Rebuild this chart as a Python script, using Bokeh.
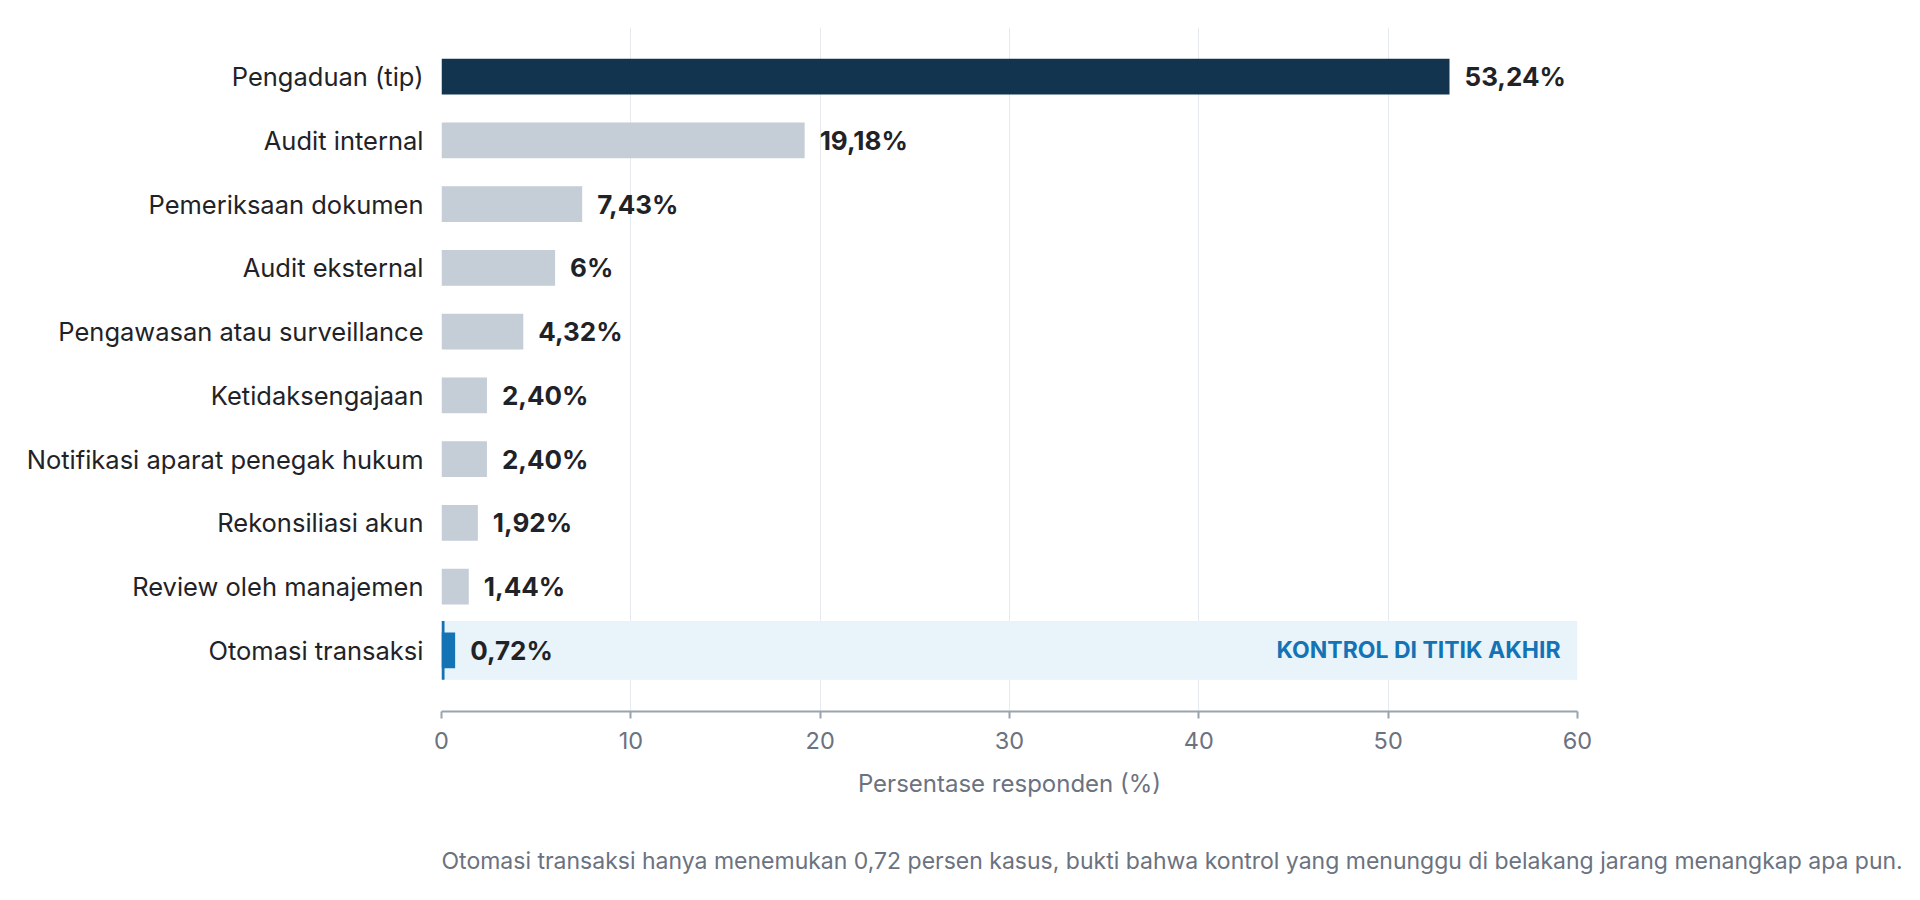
from bokeh.plotting import figure
from bokeh.models import Range1d, FixedTicker, Title
from bokeh.layouts import column
from bokeh.core.properties import value
from bokeh.embed import file_html
from bokeh.resources import INLINE

categories = ["Pengaduan (tip)", "Audit internal", "Pemeriksaan dokumen", "Audit eksternal",
              "Pengawasan atau surveillance", "Ketidaksengajaan", "Notifikasi aparat penegak hukum",
              "Rekonsiliasi akun", "Review oleh manajemen", "Otomasi transaksi"]
values = [53.24, 19.18, 7.43, 6.00, 4.32, 2.40, 2.40, 1.92, 1.44, 0.72]
value_labels = ["53,24%", "19,18%", "7,43%", "6%", "4,32%", "2,40%", "2,40%", "1,92%", "1,44%", "0,72%"]
x_ticks = [0, 10, 20, 30, 40, 50, 60]
highlight = "Otomasi transaksi"
highlight_note = "KONTROL DI TITIK AKHIR"
x_title = "Persentase responden (%)"
footnote = ("Otomasi transaksi hanya menemukan 0,72 persen kasus, bukti bahwa kontrol yang menunggu "
            "di belakang jarang menangkap apa pun.")

NAVY = "#12344f"
GRAY = "#c5cdd6"
BLUE = "#1473b5"
BAND = "#e8f3fa"
FONT = value("Inter")

n = len(categories)
ys = [n - 1 - i for i in range(n)]
colors = []
for c in categories:
    if c == categories[0]:
        colors.append(NAVY)
    elif c == highlight:
        colors.append(BLUE)
    else:
        colors.append(GRAY)

hy = ys[categories.index(highlight)]
y_start = -0.96
y_end = n - 1 + 0.77

p = figure(width=1904, height=820, output_backend="svg", toolbar_location=None,
           x_range=Range1d(x_ticks[0], x_ticks[-1]), y_range=Range1d(y_start, y_end),
           min_border_left=441, min_border_right=327, min_border_top=27, min_border_bottom=109)
p.outline_line_color = None
p.background_fill_color = "white"
p.border_fill_color = "white"

# highlight band
p.hbar(y=[hy], left=[x_ticks[0]], right=[x_ticks[-1]], height=0.92,
       fill_color=BAND, line_color=None)
p.hbar(y=[hy], left=[0], right=[0.16], height=0.92, fill_color=BLUE, line_color=None)

p.hbar(y=ys, left=0, right=values, height=0.56, fill_color=colors, line_color=None)

p.text(x=values, y=ys, text=value_labels, x_offset=15, text_baseline="middle",
       text_align="left", text_font=FONT, text_font_style="bold",
       text_font_size="26px", text_color="#1f2328")

p.text(x=[x_ticks[-1]], y=[hy], text=[highlight_note], x_offset=-17, text_baseline="middle",
       text_align="right", text_font=FONT, text_font_style="bold",
       text_font_size="23px", text_color=BLUE)

# x axis
p.xaxis.ticker = FixedTicker(ticks=x_ticks)
p.xaxis.axis_line_color = "#9aa3ae"
p.xaxis.axis_line_width = 2
p.xaxis.major_tick_line_color = "#9aa3ae"
p.xaxis.major_tick_line_width = 2
p.xaxis.major_tick_out = 7
p.xaxis.major_tick_in = 0
p.xaxis.minor_tick_line_color = None
p.xaxis.major_label_text_font = "Inter"
p.xaxis.major_label_text_font_size = "23.5px"
p.xaxis.major_label_text_color = "#6b7280"
p.xaxis.major_label_standoff = 13
p.xaxis.axis_label = x_title
p.xaxis.axis_label_text_font = "Inter"
p.xaxis.axis_label_text_font_size = "24px"
p.xaxis.axis_label_text_font_style = "normal"
p.xaxis.axis_label_text_color = "#6b7280"
p.xaxis.axis_label_standoff = 17

# y axis
p.yaxis.ticker = FixedTicker(ticks=ys)
p.yaxis.major_label_overrides = {y: c for y, c in zip(ys, categories)}
p.yaxis.axis_line_color = None
p.yaxis.major_tick_line_color = None
p.yaxis.minor_tick_line_color = None
p.yaxis.major_label_text_font = "Inter"
p.yaxis.major_label_text_font_size = "25.5px"
p.yaxis.major_label_text_color = "#1f2328"
p.yaxis.major_label_standoff = 12

p.xgrid.grid_line_color = "#e6e9ee"
p.xgrid.grid_line_width = 1
p.ygrid.grid_line_color = None

# footnote strip below the chart
f = figure(width=1904, height=64, output_backend="svg", toolbar_location=None,
           x_range=Range1d(0, 1), y_range=Range1d(0, 1),
           min_border_left=441, min_border_right=327, min_border_top=54, min_border_bottom=6)
f.outline_line_color = None
f.axis.visible = False
f.grid.grid_line_color = None
f.add_layout(Title(text=footnote, align="left", vertical_align="bottom", standoff=0,
                   text_font="Inter", text_font_size="23px", text_font_style="normal",
                   text_color="#6b7280"), "above")

layout = column(p, f, spacing=0)
open("out.html", "w").write(file_html(layout, INLINE))
